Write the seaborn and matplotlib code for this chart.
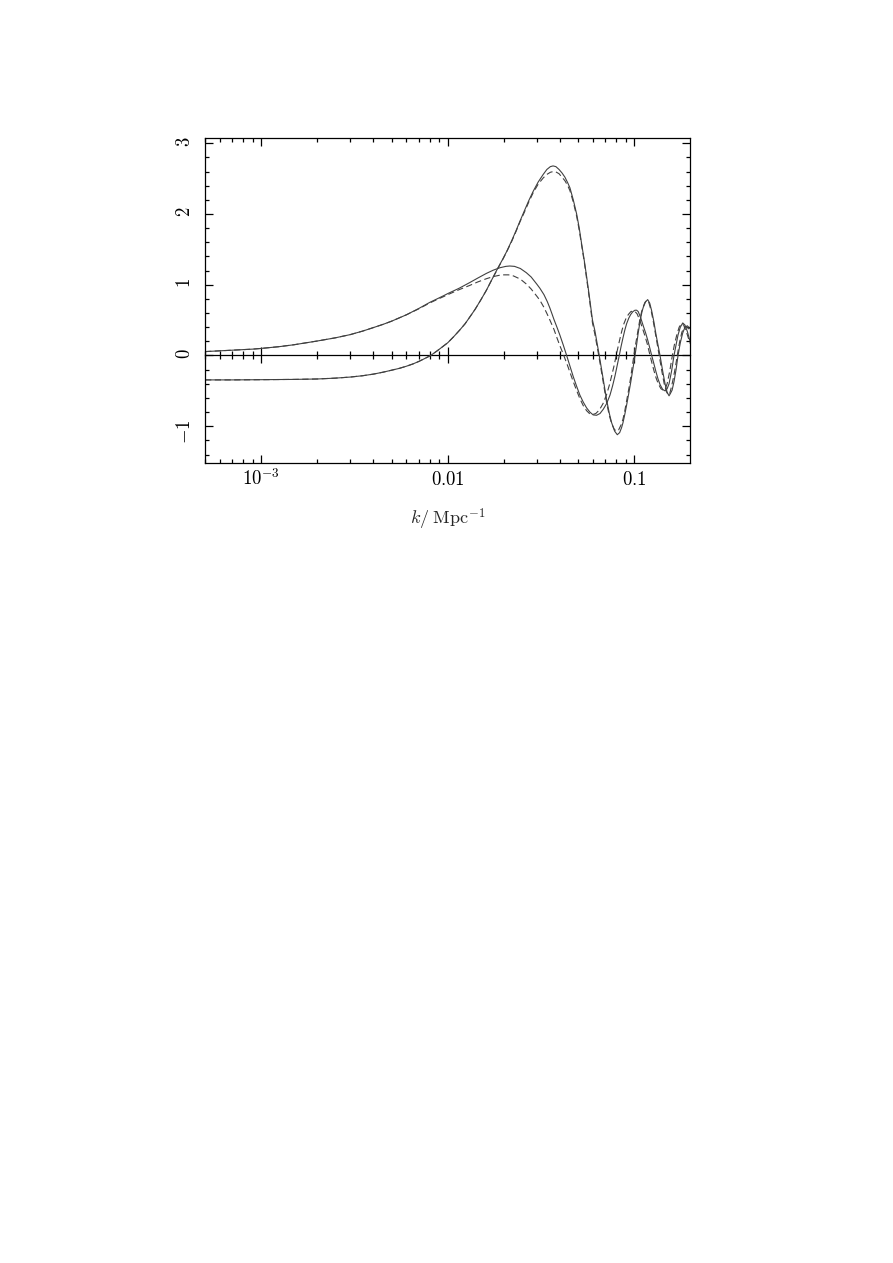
"""Two transfer-type curves vs wavenumber k, solid and dashed models."""
import numpy as np
import matplotlib
matplotlib.use('Agg')
import matplotlib.pyplot as plt
import seaborn as sns
from matplotlib.ticker import LogLocator, MultipleLocator, NullFormatter, FixedLocator

# curve values (k in Mpc^-1)
k_a = [5.0e-4, 6.0e-4, 7.0e-4, 8.0e-4, 9.0e-4, 1.0e-3, 1.25e-3, 1.5e-3, 2.0e-3, 2.5e-3,
       3.0e-3, 3.5e-3, 4.0e-3, 4.5e-3, 5.0e-3, 6.0e-3, 7.0e-3, 8.0e-3, 9.0e-3, 9.55e-3,
       0.0100, 0.0115, 0.0131, 0.0145, 0.0161, 0.0175, 0.0190, 0.0205, 0.0215, 0.0228,
       0.0245, 0.0264, 0.0280, 0.0300, 0.0312, 0.0328, 0.0342, 0.0353, 0.0362, 0.0371,
       0.0385, 0.0399, 0.0416, 0.0434, 0.0452, 0.0471, 0.0490, 0.0511, 0.0533, 0.0555,
       0.0578, 0.0602, 0.0628, 0.0655, 0.0682, 0.0711, 0.0741, 0.0765, 0.0788, 0.0810,
       0.0831, 0.0850, 0.0870, 0.0890, 0.0910, 0.0935, 0.0957, 0.0983, 0.1009, 0.1030,
       0.1050, 0.1080, 0.1117, 0.1150, 0.1180, 0.1210, 0.1240, 0.1275, 0.1307, 0.1340,
       0.1374, 0.1420, 0.1462, 0.1500, 0.1536, 0.1585, 0.1633, 0.1675, 0.1716, 0.1765,
       0.1819, 0.1870, 0.1925, 0.1991]
a_solid = [0.055, 0.066, 0.075, 0.083, 0.090, 0.100, 0.125, 0.152, 0.205, 0.250,
           0.295, 0.345, 0.395, 0.440, 0.485, 0.575, 0.665, 0.750, 0.815, 0.848,
           0.875, 0.950, 1.030, 1.095, 1.160, 1.205, 1.240, 1.260, 1.265, 1.260,
           1.230, 1.170, 1.110, 1.010, 0.950, 0.860, 0.760, 0.670, 0.590, 0.510,
           0.400, 0.290, 0.150, 0.000, -0.150, -0.300, -0.430, -0.560, -0.660, -0.740,
           -0.800, -0.840, -0.845, -0.820, -0.760, -0.680, -0.560, -0.430, -0.290, -0.140,
           0.000, 0.130, 0.250, 0.360, 0.450, 0.530, 0.580, 0.620, 0.640, 0.640,
           0.620, 0.540, 0.420, 0.320, 0.220, 0.110, 0.000, -0.120, -0.230, -0.330,
           -0.410, -0.480, -0.500, -0.470, -0.400, -0.220, 0.000, 0.150, 0.290, 0.400,
           0.460, 0.430, 0.340, 0.200]

k_a_dash = [5.0e-4, 6.0e-4, 7.0e-4, 8.0e-4, 9.0e-4, 1.0e-3, 1.25e-3, 1.5e-3, 2.0e-3, 2.5e-3,
            3.0e-3, 3.5e-3, 4.0e-3, 4.5e-3, 5.0e-3, 6.0e-3, 7.0e-3, 8.0e-3, 9.0e-3, 9.55e-3,
            0.0100, 0.0115, 0.0131, 0.0145, 0.0161, 0.0175, 0.0190, 0.0200, 0.0212, 0.0225,
            0.0245, 0.0264, 0.0280, 0.0300, 0.0312, 0.0328, 0.0342, 0.0353, 0.0371, 0.0385,
            0.0399, 0.0419, 0.0440, 0.0471, 0.0490, 0.0511, 0.0533, 0.0555, 0.0575, 0.0598,
            0.0622, 0.0650, 0.0680, 0.0711, 0.0735, 0.0756, 0.0780, 0.0800, 0.0820, 0.0840,
            0.0860, 0.0880, 0.0905, 0.0930, 0.0958, 0.0985, 0.1010, 0.1035, 0.1070, 0.1105,
            0.1140, 0.1175, 0.1215, 0.1250, 0.1280, 0.1310, 0.1345, 0.1390, 0.1430, 0.1465,
            0.1500, 0.1550, 0.1600, 0.1640, 0.1690, 0.1740, 0.1790, 0.1840, 0.1900, 0.1991]
a_dash = [0.055, 0.066, 0.075, 0.083, 0.090, 0.100, 0.125, 0.152, 0.205, 0.250,
          0.295, 0.345, 0.395, 0.440, 0.485, 0.575, 0.660, 0.742, 0.805, 0.835,
          0.860, 0.930, 0.990, 1.040, 1.085, 1.115, 1.135, 1.140, 1.140, 1.125,
          1.080, 1.010, 0.940, 0.840, 0.780, 0.680, 0.580, 0.500, 0.370, 0.250,
          0.140, 0.000, -0.150, -0.370, -0.490, -0.610, -0.710, -0.780, -0.820, -0.835,
          -0.820, -0.770, -0.680, -0.550, -0.420, -0.290, -0.140, 0.000, 0.130, 0.250,
          0.360, 0.450, 0.530, 0.580, 0.620, 0.630, 0.620, 0.590, 0.500, 0.390,
          0.280, 0.160, 0.000, -0.130, -0.230, -0.320, -0.400, -0.470, -0.490, -0.470,
          -0.400, -0.220, 0.000, 0.150, 0.290, 0.400, 0.450, 0.430, 0.340, 0.170]

k_b = [5.0e-4, 7.0e-4, 1.0e-3, 1.5e-3, 2.0e-3, 2.5e-3, 3.0e-3, 3.5e-3, 4.0e-3, 4.5e-3,
       5.0e-3, 5.5e-3, 6.0e-3, 6.5e-3, 7.0e-3, 7.5e-3, 8.1e-3, 8.8e-3, 9.5e-3, 0.0100,
       0.0108, 0.0116, 0.0124, 0.0131, 0.0140, 0.0150, 0.0161, 0.0173, 0.0186, 0.0197,
       0.0207, 0.0220, 0.0232, 0.0244, 0.0258, 0.0272, 0.0287, 0.0305, 0.0325, 0.0340,
       0.0355, 0.0367, 0.0380, 0.0395, 0.0410, 0.0425, 0.0440, 0.0452, 0.0471, 0.0491,
       0.0507, 0.0522, 0.0539, 0.0555, 0.0568, 0.0578, 0.0597, 0.0615, 0.0649, 0.0682,
       0.0711, 0.0735, 0.0756, 0.0785, 0.0811, 0.0835, 0.0855, 0.0870, 0.0890, 0.0910,
       0.0935, 0.0957, 0.0983, 0.1009, 0.1030, 0.1050, 0.1075, 0.1100, 0.1117, 0.1150,
       0.1180, 0.1210, 0.1240, 0.1275, 0.1307, 0.1340, 0.1374, 0.1420, 0.1462, 0.1500,
       0.1536, 0.1560, 0.1595, 0.1633, 0.1675, 0.1716, 0.1765, 0.1819, 0.1870, 0.1925,
       0.1991]
b_solid = [-0.345, -0.345, -0.342, -0.338, -0.332, -0.320, -0.305, -0.286, -0.263, -0.236,
           -0.208, -0.182, -0.152, -0.120, -0.084, -0.045, 0.000, 0.068, 0.135, 0.180,
           0.270, 0.360, 0.450, 0.540, 0.650, 0.780, 0.920, 1.080, 1.240, 1.360,
           1.470, 1.620, 1.760, 1.900, 2.050, 2.190, 2.320, 2.450, 2.560, 2.630,
           2.670, 2.680, 2.670, 2.630, 2.580, 2.520, 2.440, 2.370, 2.200, 2.000,
           1.800, 1.580, 1.350, 1.120, 0.930, 0.780, 0.500, 0.350, 0.000, -0.340,
           -0.630, -0.820, -0.950, -1.070, -1.120, -1.090, -1.020, -0.950, -0.830, -0.700,
           -0.530, -0.380, -0.190, 0.000, 0.160, 0.320, 0.490, 0.620, 0.680, 0.760,
           0.790, 0.740, 0.630, 0.470, 0.300, 0.150, 0.000, -0.220, -0.400, -0.520,
           -0.570, -0.540, -0.490, -0.370, -0.200, 0.000, 0.180, 0.320, 0.400, 0.420,
           0.380]

k_b_dash = [5.0e-4, 7.0e-4, 1.0e-3, 1.5e-3, 2.0e-3, 2.5e-3, 3.0e-3, 3.5e-3, 4.0e-3, 4.5e-3,
            5.0e-3, 5.5e-3, 6.0e-3, 6.5e-3, 7.0e-3, 7.5e-3, 8.1e-3, 8.8e-3, 9.5e-3, 0.0100,
            0.0108, 0.0116, 0.0124, 0.0131, 0.0140, 0.0150, 0.0161, 0.0173, 0.0186, 0.0197,
            0.0207, 0.0220, 0.0232, 0.0244, 0.0258, 0.0272, 0.0287, 0.0305, 0.0325, 0.0340,
            0.0355, 0.0367, 0.0380, 0.0395, 0.0410, 0.0425, 0.0440, 0.0452, 0.0471, 0.0491,
            0.0507, 0.0522, 0.0539, 0.0555, 0.0568, 0.0578, 0.0597, 0.0615, 0.0645, 0.0682,
            0.0711, 0.0735, 0.0756, 0.0780, 0.0800, 0.0825, 0.0850, 0.0870, 0.0890, 0.0910,
            0.0935, 0.0957, 0.0975, 0.0995, 0.1020, 0.1045, 0.1070, 0.1095, 0.1117, 0.1140,
            0.1170, 0.1200, 0.1230, 0.1265, 0.1300, 0.1330, 0.1360, 0.1405, 0.1447, 0.1487,
            0.1522, 0.1548, 0.1580, 0.1620, 0.1660, 0.1700, 0.1750, 0.1800, 0.1850, 0.1900,
            0.1991]
b_dash = [-0.345, -0.345, -0.342, -0.338, -0.332, -0.320, -0.305, -0.286, -0.263, -0.236,
          -0.208, -0.182, -0.152, -0.120, -0.084, -0.045, 0.000, 0.068, 0.135, 0.180,
          0.270, 0.360, 0.450, 0.540, 0.650, 0.780, 0.920, 1.080, 1.235, 1.355,
          1.465, 1.610, 1.750, 1.890, 2.030, 2.170, 2.300, 2.420, 2.510, 2.560,
          2.590, 2.600, 2.595, 2.570, 2.520, 2.470, 2.400, 2.330, 2.170, 1.970,
          1.770, 1.560, 1.330, 1.090, 0.900, 0.750, 0.460, 0.300, 0.000, -0.380,
          -0.670, -0.850, -0.960, -1.040, -1.070, -1.050, -0.980, -0.900, -0.780, -0.640,
          -0.470, -0.310, -0.160, 0.000, 0.180, 0.340, 0.500, 0.620, 0.690, 0.750,
          0.780, 0.740, 0.640, 0.480, 0.300, 0.150, 0.000, -0.220, -0.400, -0.510,
          -0.560, -0.540, -0.450, -0.320, -0.170, 0.000, 0.190, 0.330, 0.400, 0.410,
          0.360]

x_major = [1e-3, 1e-2, 1e-1]
x_labels = [r'$10^{-3}$', r'$0.01$', r'$0.1$']
y_major = [-1, 0, 1, 2, 3]
y_labels = [r'$-1$', r'$0$', r'$1$', r'$2$', r'$3$']

LINE_COL = '#404040'
DASH = (0, (4.5, 2.5))

sns.set_theme(style='ticks')
plt.rcParams.update({
    'font.family': ['DejaVu Serif'],
    'mathtext.fontset': 'cm',
    'axes.edgecolor': 'black', 'axes.linewidth': 0.9,
    'xtick.color': 'black', 'ytick.color': 'black',
    'lines.scale_dashes': False,
})

fig = plt.figure(figsize=(8.93, 12.63), dpi=100)
ax = fig.add_axes([0.2296, 0.6334, 0.5431, 0.2573])
ax.set_xscale('log')

sns.lineplot(x=k_a, y=a_solid, ax=ax, color=LINE_COL, lw=0.8, sort=False)
sns.lineplot(x=k_a_dash, y=a_dash, ax=ax, color=LINE_COL, lw=0.8, linestyle=DASH, sort=False)
sns.lineplot(x=k_b, y=b_solid, ax=ax, color=LINE_COL, lw=0.8, sort=False)
sns.lineplot(x=k_b_dash, y=b_dash, ax=ax, color=LINE_COL, lw=0.8, linestyle=DASH, sort=False)

ax.set_xlim(5e-4, 0.199)
ax.set_ylim(-1.52, 3.074)

ax.set_xticks(x_major, x_labels)
ax.xaxis.set_minor_locator(LogLocator(base=10, subs=np.arange(2, 10)))
ax.xaxis.set_minor_formatter(NullFormatter())
ax.set_yticks(y_major, y_labels)
ax.yaxis.set_minor_locator(MultipleLocator(0.2))

ax.tick_params(which='both', direction='in', top=True, right=True, width=0.9)
ax.tick_params(which='major', length=6)
ax.tick_params(which='minor', length=3)
ax.tick_params(axis='y', labelrotation=90, pad=8, labelsize=13.5)
ax.tick_params(axis='x', pad=15.5, labelsize=13.5)
for lab in ax.get_xticklabels():
    lab.set_va('baseline')

# zero line carrying its own ticks
zax = ax.secondary_xaxis(0, transform=ax.transData)
zax.xaxis.set_major_locator(FixedLocator(x_major))
zax.xaxis.set_minor_locator(LogLocator(base=10, subs=np.arange(2, 10)))
zax.xaxis.set_minor_formatter(NullFormatter())
zax.tick_params(which='both', direction='inout', labelbottom=False, labeltop=False,
                width=0.9, color='black')
zax.tick_params(which='major', length=12)
zax.tick_params(which='minor', length=6)
for sp in zax.spines.values():
    sp.set_linewidth(0.9)

ax.set_xlabel(r'$k/\;\mathrm{Mpc}^{-1}$', fontsize=13, labelpad=13)
ax.set_ylabel('')

fig.savefig('out.png', dpi=100, facecolor='white')
